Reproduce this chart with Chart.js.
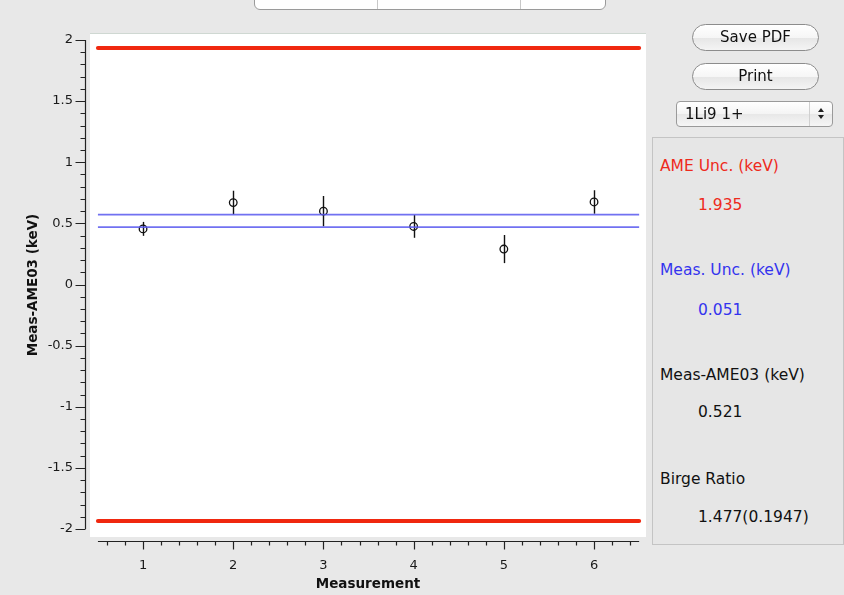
<!DOCTYPE html>
<html>
<head>
<meta charset="utf-8">
<script src="https://cdn.jsdelivr.net/npm/chart.js@4.4.0/dist/chart.umd.min.js"></script>
<style>
  html, body { margin: 0; padding: 0; background: #e8e8e8; }
  body { width: 844px; height: 595px; position: relative; overflow: hidden; font-family: "DejaVu Sans", sans-serif; }
  #plot { position: absolute; left: 0; top: 0; }
  .tabs { position: absolute; left: 254px; top: -12px; width: 352px; height: 22px; box-sizing: border-box;
          background: #fff; border: 1px solid #9a9a9a; border-radius: 0 0 6px 6px; }
  .tabs .sep { position: absolute; top: 0; bottom: 0; width: 1px; background: #c8c8c8; }
  .btn { position: absolute; left: 692px; width: 127px; height: 27px; box-sizing: border-box;
         border: 1px solid #8c8c8c; border-radius: 14px; font-size: 15px; line-height: 25px; text-align: center; color: #111;
         background: linear-gradient(#ffffff, #f6f6f6 50%, #e6e6e6 52%, #f4f4f4); }
  .select { position: absolute; left: 676px; top: 101px; width: 157px; height: 26px; box-sizing: border-box;
            border: 1px solid #9a9a9a; border-radius: 4px; font-size: 15px; line-height: 24px; color: #111; padding-left: 8px;
            background: linear-gradient(#ffffff, #f4f4f4 50%, #e8e8e8 52%, #f6f6f6); }
  .select .arrows { position: absolute; right: 0; top: 0; width: 22px; height: 24px; border-left: 1px solid #d0d0d0; }
  .select .up, .select .down { position: absolute; left: 8px; width: 0; height: 0; border-left: 3px solid transparent; border-right: 3px solid transparent; }
  .select .up { top: 6px; border-bottom: 4px solid #222; }
  .select .down { top: 13px; border-top: 4px solid #222; }
  .panel { position: absolute; left: 652px; top: 137px; width: 192px; height: 408px; box-sizing: border-box;
           border: 1px solid #c4c4c4; background: #e6e6e6; }
  .ptxt { position: absolute; font-size: 15.5px; line-height: 18px; white-space: nowrap; }
</style>
</head>
<body>
<canvas id="plot" width="844" height="595"></canvas>

<div class="tabs"><div class="sep" style="left:122px"></div><div class="sep" style="left:265px"></div></div>
<div class="btn" style="top:24px">Save PDF</div>
<div class="btn" style="top:63px">Print</div>
<div class="select">1Li9 1+<div class="arrows"><div class="up"></div><div class="down"></div></div></div>
<div class="panel"></div>
<div class="ptxt" id="ameLbl" style="left:660px; top:157px; color:#ee2a1c">AME Unc. (keV)</div>
<div class="ptxt" id="ameVal" style="left:698px; top:196px; color:#ee2a1c"></div>
<div class="ptxt" id="measLbl" style="left:660px; top:261px; color:#3434ee">Meas. Unc. (keV)</div>
<div class="ptxt" id="measVal" style="left:698px; top:301px; color:#3434ee"></div>
<div class="ptxt" id="diffLbl" style="left:660px; top:366px; color:#111">Meas-AME03 (keV)</div>
<div class="ptxt" id="diffVal" style="left:698px; top:403px; color:#111"></div>
<div class="ptxt" id="birgeLbl" style="left:660px; top:470px; color:#111">Birge Ratio</div>
<div class="ptxt" id="birgeVal" style="left:698px; top:508px; color:#111"></div>

<script>
// Measurement index and offset from AME03 (keV) with 1-sigma errors
const measurement = [1, 2, 3, 4, 5, 6];
const measMinusAme = [0.455, 0.67, 0.60, 0.475, 0.29, 0.675];
const measError = [0.057, 0.097, 0.124, 0.093, 0.115, 0.096];

// Summary values
const ameUnc = 1.935;
const measUnc = 0.051;
const meanOffset = 0.521;
const birgeRatio = 1.477;
const birgeRatioErr = 0.1947;

// Axis ticks
const yTickValues = [-2, -1.5, -1, -0.5, 0, 0.5, 1, 1.5, 2];
const xTickValues = [1, 2, 3, 4, 5, 6];
const xSpan = [0.5, 6.5];

document.getElementById('ameVal').textContent = ameUnc.toFixed(3);
document.getElementById('measVal').textContent = measUnc.toFixed(3);
document.getElementById('diffVal').textContent = meanOffset.toFixed(3);
document.getElementById('birgeVal').textContent = birgeRatio.toFixed(3) + '(' + birgeRatioErr + ')';

const hLine = (y) => xSpan.map(x => ({ x, y }));

// White plot field, axes with major/minor ticks, and error bars
const frame = {
  id: 'frame',
  beforeDraw(chart) {
    const { ctx, chartArea: a } = chart;
    ctx.save();
    ctx.fillStyle = '#ffffff';
    ctx.fillRect(a.left, a.top, a.right - a.left, a.bottom - a.top);
    ctx.fillStyle = '#cfd8d2';
    ctx.fillRect(a.left, a.top, a.right - a.left, 1);
    ctx.restore();
  },
  beforeDatasetsDraw(chart) {
    const { ctx, scales: { x, y } } = chart;
    ctx.save();
    ctx.strokeStyle = '#111';
    ctx.lineWidth = 1.4;
    measurement.forEach((m, i) => {
      const px = Math.round(x.getPixelForValue(m)) + 0.5;
      ctx.beginPath();
      ctx.moveTo(px, y.getPixelForValue(measMinusAme[i] + measError[i]));
      ctx.lineTo(px, y.getPixelForValue(measMinusAme[i] - measError[i]));
      ctx.stroke();
    });
    ctx.restore();
  },
  afterDraw(chart) {
    const { ctx, chartArea: a, scales: { x, y } } = chart;
    ctx.save();
    ctx.strokeStyle = '#222';
    ctx.lineWidth = 1.2;
    // y axis
    const ax = a.left - 4.5;
    ctx.beginPath();
    ctx.moveTo(ax, y.getPixelForValue(2));
    ctx.lineTo(ax, y.getPixelForValue(-2));
    for (let k = -20; k <= 20; k++) {
      const py = Math.round(y.getPixelForValue(k / 10)) + 0.5;
      const len = (k % 5 === 0) ? 10 : 5;
      ctx.moveTo(ax, py);
      ctx.lineTo(ax - len, py);
    }
    ctx.stroke();
    // x axis
    const ay = a.bottom + 4.5;
    ctx.beginPath();
    ctx.moveTo(x.getPixelForValue(xSpan[0]), ay);
    ctx.lineTo(x.getPixelForValue(xSpan[1]), ay);
    for (let k = 3; k <= 32; k++) {
      const px = Math.round(x.getPixelForValue(k / 5)) + 0.5;
      const len = (k % 5 === 0) ? 8 : 4;
      ctx.moveTo(px, ay);
      ctx.lineTo(px, ay + len);
    }
    ctx.stroke();
    ctx.restore();
  }
};

const tickFont = { family: '"DejaVu Sans", sans-serif', size: 13 };
const titleFont = { family: '"DejaVu Sans", sans-serif', size: 13.5, weight: 'bold' };

new Chart(document.getElementById('plot'), {
  type: 'scatter',
  data: {
    datasets: [
      {
        label: 'Meas-AME03',
        data: measurement.map((m, i) => ({ x: m, y: measMinusAme[i] })),
        pointStyle: 'circle', pointRadius: 3.8, borderWidth: 1.3,
        borderColor: '#111', backgroundColor: 'rgba(0,0,0,0)',
        showLine: false, order: 3
      },
      {
        label: 'Mean + unc', data: hLine(meanOffset + measUnc), showLine: true,
        borderColor: 'rgba(88,88,238,0.85)', borderWidth: 1.8, pointRadius: 0, order: 2
      },
      {
        label: 'Mean - unc', data: hLine(meanOffset - measUnc), showLine: true,
        borderColor: 'rgba(88,88,238,0.85)', borderWidth: 1.8, pointRadius: 0, order: 2
      },
      {
        label: '+AME unc', data: hLine(ameUnc), showLine: true,
        borderColor: '#f0280f', borderWidth: 4, borderCapStyle: 'round', pointRadius: 0, order: 1
      },
      {
        label: '-AME unc', data: hLine(-ameUnc), showLine: true,
        borderColor: '#f0280f', borderWidth: 4, borderCapStyle: 'round', pointRadius: 0, order: 1
      }
    ]
  },
  options: {
    responsive: false,
    animation: false,
    events: [],
    layout: { padding: { top: 33, right: 198, left: 0, bottom: 0 } },
    plugins: { legend: { display: false }, tooltip: { enabled: false } },
    scales: {
      x: {
        type: 'linear', min: 0.412, max: 6.576,
        afterBuildTicks: (s) => { s.ticks = xTickValues.map(v => ({ value: v })); },
        afterFit: (s) => { s.height = 58; },
        grid: { display: false, drawTicks: false },
        border: { display: false },
        ticks: { font: tickFont, color: '#1a1a1a', padding: 21, autoSkip: false, maxRotation: 0, callback: (v) => String(v) },
        title: { display: true, text: 'Measurement', font: titleFont, color: '#111', padding: { top: 0, bottom: 2 } }
      },
      y: {
        type: 'linear', min: -2.065, max: 2.057,
        afterBuildTicks: (s) => { s.ticks = yTickValues.map(v => ({ value: v })); },
        afterFit: (s) => { s.width = 90; },
        grid: { display: false, drawTicks: false },
        border: { display: false },
        ticks: { font: tickFont, color: '#1a1a1a', padding: 17, autoSkip: false, callback: (v) => String(v) },
        title: { display: true, text: 'Meas-AME03 (keV)', font: titleFont, color: '#111', padding: { top: 25, bottom: 0 } }
      }
    }
  },
  plugins: [frame]
});
</script>
</body>
</html>
